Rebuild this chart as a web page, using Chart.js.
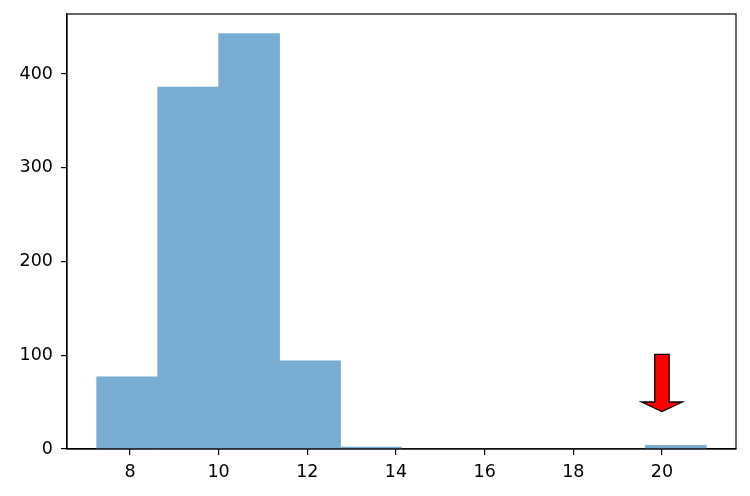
<!DOCTYPE html>
<html>
<head>
<meta charset="utf-8">
<script src="https://cdn.jsdelivr.net/npm/chart.js@4.4.1/dist/chart.umd.min.js"></script>
<style>
  html, body { margin: 0; padding: 0; background: #fff; }
  #wrap { width: 750px; height: 496px; }
</style>
</head>
<body>
<div id="wrap"><canvas id="histChart"></canvas></div>
<script>
// histogram bins (10 equal bins)
const binEdges = [7.25, 8.625, 10.0, 11.375, 12.75, 14.125, 15.5, 16.875, 18.25, 19.625, 21.0];
const counts = [77, 386, 443, 94, 2, 0, 0, 0, 0, 4];
const xTicks = [8, 10, 12, 14, 16, 18, 20];
const yTicks = [0, 100, 200, 300, 400];
// annotation arrow: from (20, 101) down to (20, 40)
const arrowX = 20;
const arrowFrom = 101;
const arrowTo = 40;

const binCenters = counts.map((c, i) => (binEdges[i] + binEdges[i + 1]) / 2);
const histData = counts.map((c, i) => ({ x: binCenters[i], y: c }));

const FONT = { family: 'DejaVu Sans', size: 17.5 };

// frame around plot area (all four spines)
const framePlugin = {
    id: 'frame',
    afterDraw(chart) {
        const { ctx, chartArea } = chart;
        ctx.save();
        ctx.strokeStyle = '#000';
        ctx.lineWidth = 1.2;
        ctx.strokeRect(chartArea.left, chartArea.top, chartArea.right - chartArea.left, chartArea.bottom - chartArea.top);
        ctx.restore();
    }
};

// red arrow annotation
const arrowPlugin = {
    id: 'arrow',
    afterDatasetsDraw(chart) {
        const { ctx } = chart;
        const xs = chart.scales.x, ys = chart.scales.y;
        const px = xs.getPixelForValue(arrowX);
        const yTop = ys.getPixelForValue(arrowFrom);
        const yTip = ys.getPixelForValue(arrowTo);
        const shaftHalf = 7.2;
        const headHalf = 20.5;
        const headLen = 9.5;
        const yBase = yTip - headLen;
        ctx.save();
        ctx.beginPath();
        ctx.moveTo(px - shaftHalf, yTop);
        ctx.lineTo(px + shaftHalf, yTop);
        ctx.lineTo(px + shaftHalf, yBase);
        ctx.lineTo(px + headHalf, yBase);
        ctx.lineTo(px, yTip);
        ctx.lineTo(px - headHalf, yBase);
        ctx.lineTo(px - shaftHalf, yBase);
        ctx.closePath();
        ctx.fillStyle = '#ff0000';
        ctx.fill();
        ctx.strokeStyle = '#000';
        ctx.lineWidth = 1.3;
        ctx.lineJoin = 'miter';
        ctx.stroke();
        ctx.restore();
    }
};

const ctx = document.getElementById('histChart').getContext('2d');
const histChart = new Chart(ctx, {
    type: 'bar',
    data: {
        datasets: [{
            data: histData,
            backgroundColor: 'rgb(121, 173, 210)',
            borderWidth: 0,
            barPercentage: 1.0,
            categoryPercentage: 1.0,
        }]
    },
    options: {
        responsive: true,
        maintainAspectRatio: false,
        animation: false,
        layout: { padding: { top: 14, right: 14, left: 0, bottom: 0 } },
        plugins: {
            legend: { display: false },
            tooltip: { enabled: false },
        },
        scales: {
            x: {
                type: 'linear',
                offset: false,
                min: 6.58,
                max: 21.67,
                afterBuildTicks: (scale) => { scale.ticks = xTicks.map(v => ({ value: v })); },
                afterFit: (scale) => { scale.height = 47; scale.paddingLeft = 0; scale.paddingRight = 0; },
                ticks: { color: '#000', font: FONT, padding: 7, maxRotation: 0, autoSkip: false },
                grid: { offset: false, drawOnChartArea: false, drawTicks: true, tickLength: 6, color: '#000', lineWidth: 1.2 },
                border: { display: true, color: '#000', width: 1.2 },
            },
            y: {
                min: 0,
                max: 464,
                afterBuildTicks: (scale) => { scale.ticks = yTicks.map(v => ({ value: v })); },
                afterFit: (scale) => { scale.width = 67; scale.paddingTop = 0; scale.paddingBottom = 0; },
                ticks: { color: '#000', font: FONT, padding: 8 },
                grid: { drawOnChartArea: false, drawTicks: true, tickLength: 6, color: '#000', lineWidth: 1.2 },
                border: { display: true, color: '#000', width: 1.2 },
            }
        }
    },
    plugins: [framePlugin, arrowPlugin]
});
</script>
</body>
</html>
